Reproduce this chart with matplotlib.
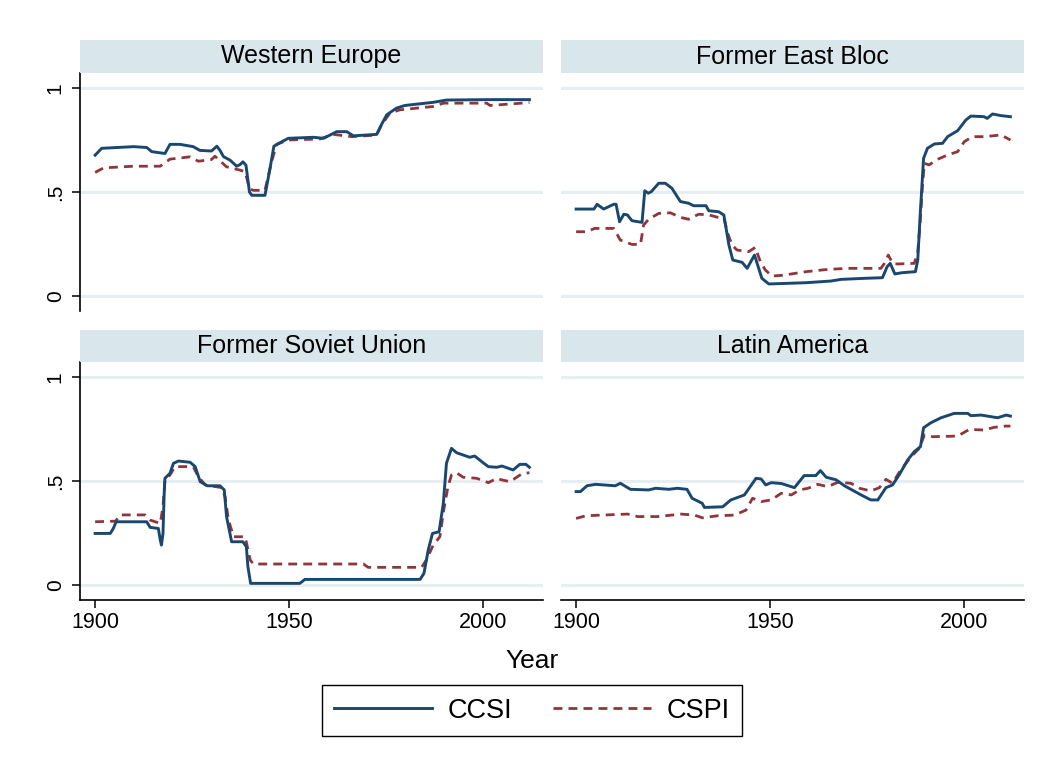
import matplotlib
matplotlib.use("Agg")
import matplotlib.pyplot as plt
from matplotlib.lines import Line2D

plt.rcParams['font.family'] = ['Liberation Sans', 'DejaVu Sans']

# ---------------- data ----------------
panel_titles = ["Western Europe", "Former East Bloc", "Former Soviet Union", "Latin America"]
series_names = ["CCSI", "CSPI"]
x_ticks = [1900, 1950, 2000]
y_ticks = [0, 0.5, 1]
y_tick_labels = ["0", ".5", "1"]

we_ccsi_year = [1900, 1901.7, 1909.9, 1913.3, 1914.6, 1918, 1919.3, 1921.9, 1925.3, 1927, 1930,
                1931.4, 1932.2, 1933.1, 1934.8, 1936.5, 1937.4, 1938.1, 1938.9, 1939.8, 1940.4,
                1943.8, 1945.1, 1946.1, 1947.7, 1949.8, 1956.3, 1958.9, 1962.3, 1964.9, 1966.6,
                1972.6, 1973.9, 1975.2, 1977.7, 1979.9, 1987.2, 1990.6, 2001, 2012]
we_ccsi = [0.677, 0.71, 0.718, 0.714, 0.694, 0.685, 0.729, 0.729, 0.718, 0.70, 0.697,
           0.72, 0.70, 0.67, 0.653, 0.624, 0.632, 0.645, 0.629, 0.50, 0.484,
           0.484, 0.613, 0.72, 0.737, 0.758, 0.763, 0.758, 0.79, 0.79, 0.77,
           0.777, 0.826, 0.871, 0.903, 0.916, 0.931, 0.942, 0.944, 0.944]
we_cspi_year = [1900, 1902.2, 1909.9, 1916.8, 1919.3, 1924.5, 1926.6, 1930, 1930.9, 1933.9, 1937.4,
                1938.7, 1939.8, 1940.8, 1943.8, 1945.5, 1946.8, 1949.8, 1958, 1961.4, 1966.2,
                1972.6, 1973.9, 1976, 1978.6, 1987.2, 1989.8, 2001, 2001.8, 2007.8, 2012]
we_cspi = [0.594, 0.616, 0.624, 0.624, 0.658, 0.669, 0.648, 0.656, 0.672, 0.621, 0.605,
           0.597, 0.516, 0.508, 0.508, 0.645, 0.729, 0.75, 0.755, 0.777, 0.766,
           0.774, 0.823, 0.879, 0.895, 0.911, 0.927, 0.927, 0.916, 0.924, 0.93]

feb_ccsi_year = [1900, 1904.6, 1905.4, 1907.1, 1909.7, 1910.3, 1911.2, 1912.3, 1913.2, 1914.4, 1917,
                 1917.7, 1918.6, 1919.4, 1921.3, 1923, 1924.7, 1926.9, 1929, 1930.3, 1933.5,
                 1934.2, 1936.8, 1938.1, 1939.4, 1940.4, 1942.8, 1944.1, 1946, 1947.9, 1949.7,
                 1953, 1959.3, 1965.7, 1968.3, 1974.3, 1979, 1980.2, 1981, 1982.2, 1984,
                 1987.5, 1988.1, 1988.7, 1989.6, 1990.6, 1992.4, 1994.5, 1995.8, 1998.4, 2000.5,
                 2001.8, 2005.2, 2006, 2007.4, 2009.6, 2012]
feb_ccsi = [0.418, 0.418, 0.441, 0.418, 0.441, 0.441, 0.357, 0.393, 0.39, 0.362, 0.354,
            0.506, 0.494, 0.502, 0.542, 0.542, 0.518, 0.454, 0.446, 0.434, 0.434,
            0.41, 0.405, 0.389, 0.245, 0.173, 0.162, 0.133, 0.197, 0.085, 0.058,
            0.06, 0.064, 0.072, 0.08, 0.085, 0.088, 0.141, 0.157, 0.106, 0.112,
            0.117, 0.173, 0.381, 0.662, 0.71, 0.731, 0.734, 0.766, 0.795, 0.846,
            0.865, 0.862, 0.854, 0.875, 0.867, 0.862]
feb_cspi_year = [1900, 1902.6, 1904.8, 1909.7, 1911.4, 1914.4, 1916.6, 1917.4, 1918.7, 1921.3, 1924.3,
                 1926.9, 1929, 1931.6, 1934.2, 1936.8, 1938.1, 1939.1, 1940.2, 1941.5, 1944.5,
                 1946.2, 1947.5, 1948.8, 1950.5, 1953.5, 1956.5, 1959.3, 1964.9, 1970, 1978.6,
                 1979.5, 1980.5, 1981.6, 1982.9, 1987.2, 1988.1, 1988.7, 1989.3, 1989.8, 1991,
                 1993.2, 1995.8, 1998.4, 2000.1, 2002.2, 2005.2, 2009.6, 2012]
feb_cspi = [0.309, 0.309, 0.325, 0.325, 0.269, 0.248, 0.248, 0.341, 0.369, 0.397, 0.40,
            0.378, 0.369, 0.393, 0.39, 0.377, 0.373, 0.301, 0.245, 0.221, 0.213,
            0.234, 0.165, 0.125, 0.096, 0.10, 0.109, 0.117, 0.128, 0.133, 0.133,
            0.157, 0.197, 0.157, 0.154, 0.157, 0.213, 0.349, 0.526, 0.638, 0.63,
            0.657, 0.678, 0.694, 0.742, 0.766, 0.766, 0.774, 0.75]

fsu_ccsi_year = [1900, 1903.9, 1904.7, 1905.4, 1913.3, 1914.2, 1916.3, 1916.8, 1917.1, 1917.5, 1917.8,
                 1918, 1919.3, 1920.2, 1921.5, 1924.5, 1925.8, 1927.1, 1928.9, 1932.2, 1933.3,
                 1933.9, 1935.2, 1938.1, 1939, 1939.4, 1940.1, 1952.8, 1954.1, 1983.8, 1984.8,
                 1985.9, 1987, 1988.7, 1989.8, 1990.6, 1991.9, 1993.2, 1996.6, 1997.9, 1999.7,
                 2001.4, 2003.6, 2004.9, 2007.8, 2009.5, 2011.1, 2012]
fsu_ccsi = [0.248, 0.248, 0.272, 0.304, 0.304, 0.277, 0.272, 0.216, 0.192, 0.248, 0.433,
            0.513, 0.537, 0.585, 0.596, 0.59, 0.569, 0.497, 0.477, 0.477, 0.457,
            0.328, 0.208, 0.208, 0.184, 0.088, 0.008, 0.008, 0.027, 0.027, 0.056,
            0.168, 0.248, 0.256, 0.393, 0.585, 0.657, 0.636, 0.614, 0.62, 0.593,
            0.569, 0.566, 0.572, 0.553, 0.58, 0.58, 0.566]
fsu_cspi_year = [1900, 1905.3, 1906.4, 1912.9, 1914.2, 1916.8, 1917.5, 1918, 1919.3, 1920.6, 1925.3,
                 1926.6, 1928.4, 1932.7, 1933.5, 1934.4, 1935.7, 1938.7, 1940, 1940.8, 1969.2,
                 1970.4, 1984.2, 1985.4, 1987.2, 1988.9, 1989.9, 1991, 1991.9, 1993.2, 1994.9,
                 1998.4, 2001.4, 2003.6, 2004.9, 2007, 2008.3, 2010, 2012]
fsu_cspi = [0.304, 0.307, 0.337, 0.337, 0.312, 0.296, 0.377, 0.505, 0.529, 0.569, 0.569,
            0.521, 0.481, 0.468, 0.425, 0.312, 0.232, 0.232, 0.12, 0.101, 0.101,
            0.085, 0.085, 0.12, 0.192, 0.232, 0.36, 0.473, 0.529, 0.54, 0.518,
            0.513, 0.492, 0.513, 0.505, 0.497, 0.513, 0.534, 0.54]

la_ccsi_year = [1900, 1901.1, 1902.8, 1905, 1910.1, 1911.4, 1914, 1918.7, 1920.5, 1923.9, 1926.1,
                1928.6, 1929.9, 1932.5, 1933.1, 1937.8, 1939.9, 1943.4, 1946.4, 1947.7, 1948.9,
                1950.3, 1952.9, 1956.3, 1958.8, 1961.8, 1963, 1964.5, 1967, 1969.2, 1973.5,
                1976, 1977.8, 1979.9, 1981.6, 1983.3, 1985.5, 1987.2, 1988.8, 1989.6, 1991.5,
                1994.1, 1997.5, 2001, 2001.8, 2004.4, 2008.7, 2010.9, 2012]
la_ccsi = [0.449, 0.449, 0.477, 0.484, 0.477, 0.489, 0.46, 0.457, 0.465, 0.46, 0.465,
           0.46, 0.417, 0.393, 0.373, 0.376, 0.409, 0.433, 0.513, 0.51, 0.481,
           0.492, 0.488, 0.468, 0.526, 0.526, 0.55, 0.518, 0.506, 0.477, 0.433,
           0.409, 0.409, 0.468, 0.481, 0.529, 0.601, 0.641, 0.665, 0.756, 0.78,
           0.804, 0.825, 0.825, 0.814, 0.817, 0.804, 0.817, 0.812]
la_cspi_year = [1900, 1902.5, 1913.3, 1915.9, 1921, 1927.1, 1930.5, 1932.6, 1936.5, 1940.8, 1943.8,
                1945.5, 1947.7, 1950.3, 1952.9, 1955.5, 1957.6, 1959.8, 1962.3, 1964.9, 1967.5,
                1970.9, 1973.1, 1976, 1978.2, 1979.9, 1981.6, 1983.7, 1986.4, 1988.5, 1989.8,
                1991.9, 1998.4, 2001.4, 2005.2, 2007.8, 2010.8, 2012]
la_cspi = [0.32, 0.333, 0.341, 0.329, 0.329, 0.341, 0.336, 0.323, 0.333, 0.336, 0.36,
           0.417, 0.401, 0.409, 0.441, 0.433, 0.457, 0.465, 0.484, 0.473, 0.494,
           0.489, 0.465, 0.452, 0.468, 0.508, 0.489, 0.553, 0.617, 0.657, 0.721,
           0.713, 0.716, 0.748, 0.745, 0.758, 0.764, 0.764]

panels = [
    (we_ccsi_year, we_ccsi, we_cspi_year, we_cspi),
    (feb_ccsi_year, feb_ccsi, feb_cspi_year, feb_cspi),
    (fsu_ccsi_year, fsu_ccsi, fsu_cspi_year, fsu_cspi),
    (la_ccsi_year, la_ccsi, la_cspi_year, la_cspi),
]

# ---------------- styling ----------------
W, H = 1047, 767
CCSI_COLOR = "#1a476f"
CSPI_COLOR = "#90353b"
STRIP_COLOR = "#d9e6eb"
GRID_COLOR = "#e6eef1"
DASH = (0, (3.2, 2.2))

fig = plt.figure(figsize=(W / 100, H / 100), dpi=100)
fig.patch.set_facecolor("white")

def px_rect(x0, y0, x1, y1):
    return [x0 / W, 1 - y1 / H, (x1 - x0) / W, (y1 - y0) / H]

col_x = [(80, 543), (561, 1024)]
row_y = [(73, 311, 40), (362, 600, 330)]

for i, (cy, cv, sy, sv) in enumerate(panels):
    r, c = divmod(i, 2)
    x0, x1 = col_x[c]
    y0, y1, ys = row_y[r]
    ax = fig.add_axes(px_rect(x0, y0, x1, y1))
    ax.set_facecolor("white")
    ax.set_xlim(1896.1, 2015.5)
    ax.set_ylim(-0.072, 1.072)
    for yv in y_ticks:
        ax.axhline(yv, color=GRID_COLOR, lw=2.2, zorder=0)
    ax.plot(sy, sv, color=CSPI_COLOR, lw=2.0, linestyle=DASH, zorder=2)
    ax.plot(cy, cv, color=CCSI_COLOR, lw=2.1, zorder=3)

    for s in ["top", "right"]:
        ax.spines[s].set_visible(False)
    ax.spines["left"].set_visible(c == 0)
    ax.spines["bottom"].set_visible(r == 1)
    ax.spines["left"].set_linewidth(1.2)
    ax.spines["bottom"].set_linewidth(1.2)

    ax.set_yticks(y_ticks)
    ax.set_xticks(x_ticks)
    if c == 0:
        ax.set_yticklabels(y_tick_labels, rotation=90, va="center", fontsize=15)
        ax.tick_params(axis="y", length=6, width=1.1, pad=5, colors="black")
    else:
        ax.tick_params(axis="y", left=False, labelleft=False)
    if r == 1:
        ax.set_xticklabels([str(v) for v in x_ticks], fontsize=15.5)
        ax.tick_params(axis="x", length=6, width=1.1, pad=3, colors="black")
    else:
        ax.tick_params(axis="x", bottom=False, labelbottom=False)

    # strip
    sax = fig.add_axes(px_rect(x0, ys, x1, y0))
    sax.set_facecolor(STRIP_COLOR)
    for s in sax.spines.values():
        s.set_visible(False)
    sax.set_xticks([])
    sax.set_yticks([])
    sax.text(0.5, 0.5, panel_titles[i], ha="center", va="center", fontsize=18,
             transform=sax.transAxes)

fig.text(532 / W, 1 - 661 / H, "Year", ha="center", va="center", fontsize=19)

handles = [Line2D([], [], color=CCSI_COLOR, lw=2.1),
           Line2D([], [], color=CSPI_COLOR, lw=2.0, linestyle=DASH)]
leg = fig.legend(handles, series_names, loc="center", bbox_to_anchor=(532 / W, 1 - 710.5 / H),
                 ncol=2, fontsize=19.5, frameon=True, fancybox=False, framealpha=1,
                 edgecolor="black", handlelength=3.6, handletextpad=0.6, columnspacing=1.5,
                 borderpad=0.45)
leg.get_frame().set_linewidth(1.0)

fig.savefig("out.png", dpi=100, facecolor="white")
